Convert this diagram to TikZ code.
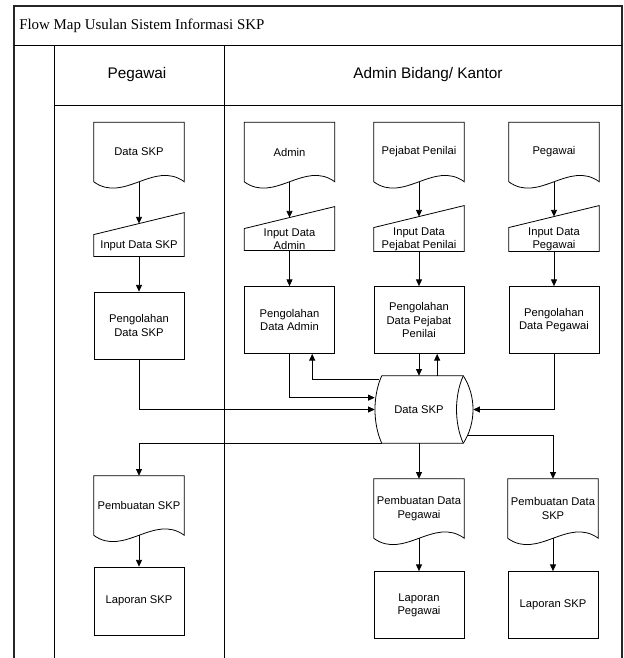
\documentclass[tikz,border=0pt]{standalone}
\usepackage{fontspec}
\setmainfont{Liberation Serif}
\newfontfamily\arialfont{Liberation Sans}
\usetikzlibrary{arrows.meta, calc}

\newcommand{\boxfont}{\arialfont\fontsize{8.4}{10}\selectfont}
% document symbol: flat top, wavy bottom
\newcommand{\docshape}[1]{%
  \draw[outline] (#1.south west) -- (#1.north west) -- (#1.north east) -- (#1.south east)
    .. controls +(-30,-22) and +(30,22) .. (#1.south west);}
% manual input symbol: slanted top
\newcommand{\manualinput}[1]{%
  \draw[outline] (#1.south west) -- (#1.north west) -- ($(#1.north east)+(0,-22)$) -- (#1.south east) -- cycle;
  \coordinate (#1-top) at ($(#1.north)+(0,-11)$);}

\begin{document}
\begin{tikzpicture}[
    x=0.75pt, y=-0.75pt,
    box/.style={rectangle, draw=black, line width=0.6pt, minimum width=67.5pt, minimum height=50.25pt, align=center, inner sep=1pt, font=\boxfont},
    docbox/.style={rectangle, minimum width=67.5pt, minimum height=44.25pt, align=center, inner sep=1pt, font=\boxfont},
    inbox/.style={rectangle, minimum width=67.5pt, minimum height=16pt, align=center, inner sep=0pt, font=\boxfont},
    drum/.style={rectangle, minimum width=66pt, minimum height=50.25pt, align=center, inner sep=1pt, font=\boxfont},
    outline/.style={draw=black, line width=0.6pt},
    arrow/.style={-{Triangle[length=5pt,width=4.5pt]}, line width=0.6pt},
    frame/.style={draw=black!85, line width=1.1pt},
    lane/.style={draw=black, line width=0.7pt},
    header/.style={font=\arialfont\fontsize{11.5}{14}\selectfont},
]
\useasboundingbox (0,0) rectangle (624,658);

% Swimlane frame
\draw[frame] (14,658) -- (14,6) -- (622,6) -- (622,658);
\draw[lane] (14,45) -- (622,45);
\draw[lane] (54,45) -- (54,658);
\draw[lane] (224,45) -- (224,658);
\draw[lane] (54,105) -- (622,105);

\node[anchor=west, inner sep=0pt, font=\fontsize{11.2}{14}\selectfont] (title) at (19,26) {Flow Map Usulan Sistem Informasi SKP};
\node[header] (hpegawai) at (137,75) {Pegawai};
\node[header] (hadmin) at (428,75) {Admin Bidang/ Kantor};

% Lane: Pegawai
\node[docbox] (doc1) at (139,152) {Data SKP};
\node[inbox] (in1) at (139,245.5) {Input Data SKP};
\node[box] (proc1) at (139,325.5) {Pengolahan\\Data SKP};
\node[docbox] (buat1) at (139,505.5) {Pembuatan SKP};
\node[box, minimum height=51pt] (lap1) at (139,601) {Laporan SKP};

% Lane: Admin Bidang/ Kantor
\node[docbox] (doc2) at (289.5,152) {Admin};
\node[docbox] (doc3) at (419,152) {Pejabat Penilai};
\node[docbox] (doc4) at (554,152) {Pegawai};

\node[inbox] (in2) at (289.5,239.5) {Input Data\\Admin};
\node[inbox] (in3) at (419,239.5) {Input Data\\Pejabat Penilai};
\node[inbox] (in4) at (554,239.5) {Input Data\\Pegawai};

\node[box] (proc2) at (289.5,320) {Pengolahan\\Data Admin};
\node[box] (proc3) at (419,320) {Pengolahan\\Data Pejabat\\Penilai};
\node[box] (proc4) at (554,320) {Pengolahan\\Data Pegawai};

% Storage
\node[drum] (db) at (419,409.5) {Data SKP};

\node[docbox] (buat2) at (419,508.5) {Pembuatan Data\\Pegawai};
\node[docbox] (buat3) at (553,508.5) {Pembuatan Data\\SKP};
\node[box] (lap2) at (419,605) {Laporan\\Pegawai};
\node[box] (lap3) at (553,605) {Laporan SKP};

% Shapes
\docshape{doc1} \docshape{doc2} \docshape{doc3} \docshape{doc4}
\docshape{buat1} \docshape{buat2} \docshape{buat3}
\manualinput{in1} \manualinput{in2} \manualinput{in3} \manualinput{in4}
\draw[outline] ($(db.north west)+(7,0)$) -- (db.north east)
    .. controls +(13,20) and +(13,-20) .. (db.south east) -- ($(db.south west)+(7,0)$)
    .. controls +(-9,-20) and +(-9,20) .. ($(db.north west)+(7,0)$);
\draw[outline] (db.south east) .. controls +(-9,-20) and +(-9,20) .. (db.north east);

% Arrows
\draw[arrow] (doc1.south) -- (in1-top);
\draw[arrow] (in1) -- (proc1);
\draw[arrow] (proc1) |- (db);
\draw[arrow] (doc2.south) -- (in2-top);
\draw[arrow] (in2) -- (proc2);
\draw[arrow] (proc2) |- (db.165);
\coordinate (ret2) at ($(proc2.south)!.5!(proc2.south east)$);
\draw[arrow] ($(db.146)+(4,0)$) -| (ret2);
\draw[arrow] (doc3.south) -- (in3-top);
\draw[arrow] (in3) -- (proc3);
\draw[arrow] (proc3) -- (db);
\coordinate (ret3) at ($(proc3.south)!.4!(proc3.south east)$);
\draw[arrow] (ret3 |- db.north) -- (ret3);
\draw[arrow] (doc4.south) -- (in4-top);
\draw[arrow] (in4) -- (proc4);
\draw[arrow] (proc4) |- ($(db.east)+(10,0)$);

\draw[arrow] ($(db.south west)+(7,0)$) -| (buat1);
\draw[arrow] (db) -- (buat2);
\draw[arrow] ($(db.south east)+(4,-8)$) -| (buat3);
\draw[arrow] (buat1) -- (lap1);
\draw[arrow] (buat2) -- (lap2);
\draw[arrow] (buat3) -- (lap3);

\end{tikzpicture}
\end{document}
